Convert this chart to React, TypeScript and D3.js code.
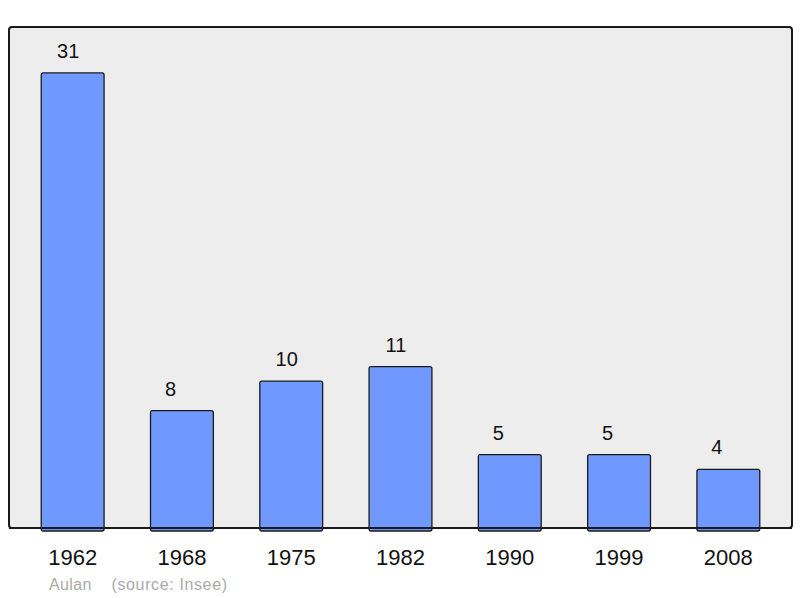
import React from "react";
import * as d3 from "d3";

const years = ["1962", "1968", "1975", "1982", "1990", "1999", "2008"];
const values = [31, 8, 10, 11, 5, 5, 4];
const footerName = "Aulan";
const footerSource = "(source: Insee)";

export default function App() {
  const W = 800, H = 598;
  const fx0 = 9, fx1 = 792, fy0 = 27, fy1 = 528;
  const x = d3.scaleBand<string>().domain(years).range([fx0, fx1]).paddingInner(0.425).paddingOuter(0.295);
  const y = d3.scaleLinear().domain([0, 34.13]).range([fy1, fy0]);
  const font = "'Liberation Sans', Arial, sans-serif";
  return (
    <svg width={W} height={H} style={{ position: "absolute", left: 0, top: 0 }}>
      <rect x={fx0} y={fy0} width={fx1 - fx0} height={fy1 - fy0} rx={3} fill="#ededed" stroke="#1a1a1a" strokeWidth={2} />
      {years.map((yr, i) => {
        const bx = x(yr)!;
        const top = y(values[i]);
        const label = String(values[i]);
        const dx = label.length === 1 ? -11.5 : -4.5;
        return (
          <g key={yr}>
            <rect x={bx} y={top} width={x.bandwidth()} height={fy1 - top + 3} rx={2} fill="#7099ff" stroke="#1a1a1a" strokeWidth={1.3} />
            <text x={bx + x.bandwidth() / 2 + dx} y={top - 15} textAnchor="middle" fontFamily={font} fontSize={20} fill="#111">{label}</text>
            <text x={bx + x.bandwidth() / 2} y={564.5} textAnchor="middle" fontFamily={font} fontSize={22} fill="#111">{yr}</text>
          </g>
        );
      })}
      <line x1={fx0} x2={fx1} y1={fy1} y2={fy1} stroke="#1a1a1a" strokeWidth={2} />
      <text x={49} y={589.5} fontFamily={font} fontSize={16} textLength={42.5} fill="#aaaaaa">{footerName}</text>
      <text x={111.5} y={589.5} fontFamily={font} fontSize={16} textLength={115.5} fill="#aaaaaa">{footerSource}</text>
    </svg>
  );
}
